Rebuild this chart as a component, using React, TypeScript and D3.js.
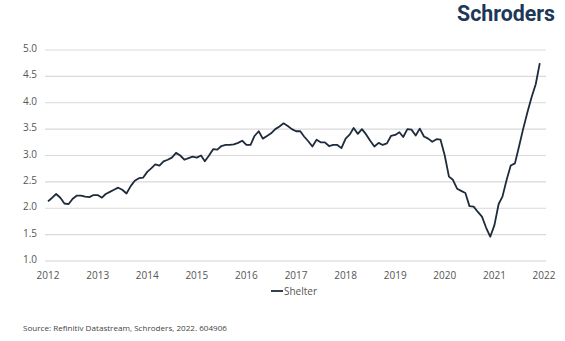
import React from "react";
import * as d3 from "d3";

const START_YEAR = 2012;
const shelter: number[] = [
  2.13, 2.2, 2.27, 2.2, 2.09, 2.08, 2.18, 2.24, 2.24, 2.22, 2.21, 2.25,
  2.25, 2.2, 2.27, 2.31, 2.35, 2.39, 2.35, 2.28, 2.42, 2.52, 2.57, 2.58,
  2.69, 2.76, 2.83, 2.81, 2.89, 2.92, 2.96, 3.05, 3.0, 2.92, 2.95, 2.98,
  2.96, 3.0, 2.89, 3.0, 3.12, 3.11, 3.18, 3.2, 3.2, 3.21, 3.24, 3.28,
  3.2, 3.2, 3.37, 3.46, 3.32, 3.37, 3.42, 3.5, 3.55, 3.61, 3.56, 3.5,
  3.46, 3.46, 3.36, 3.27, 3.17, 3.3, 3.25, 3.25, 3.18, 3.2, 3.2, 3.14,
  3.32, 3.4, 3.52, 3.41, 3.5, 3.4, 3.28, 3.17, 3.24, 3.2, 3.23, 3.37,
  3.39, 3.44, 3.35, 3.5, 3.49, 3.38, 3.51, 3.36, 3.32, 3.26, 3.31, 3.3,
  3.0, 2.6, 2.54, 2.37, 2.33, 2.29, 2.04, 2.03, 1.93, 1.84, 1.63, 1.46,
  1.68, 2.08, 2.22, 2.54, 2.81, 2.85, 3.17, 3.51, 3.82, 4.1, 4.35, 4.75,
];
const yTicks: number[] = [1.0, 1.5, 2.0, 2.5, 3.0, 3.5, 4.0, 4.5, 5.0];
const xTickYears: number[] = [2012, 2013, 2014, 2015, 2016, 2017, 2018, 2019, 2020, 2021, 2022];
const seriesName = "Shelter";
const sourceText = "Source: Refinitiv Datastream, Schroders, 2022. 604906";
const logoText = "Schroders";

const FONT = "'Open Sans', 'Noto Sans', sans-serif";

export default function App() {
  const x = d3
    .scaleTime()
    .domain([new Date(2012, 0, 1), new Date(2022, 0, 1)])
    .range([48, 544]);
  const y = d3.scaleLinear().domain([1, 5]).range([261, 50]);

  const pts = shelter.map((v, i) => ({ d: new Date(START_YEAR, i, 1), v }));
  const line = d3
    .line<{ d: Date; v: number }>()
    .x((p) => x(p.d))
    .y((p) => y(p.v));

  return (
    <svg
      width={565}
      height={341}
      style={{ position: "absolute", left: 0, top: 0, background: "#fff" }}
      fontFamily={FONT}
    >
      <rect x={0} y={0} width={565} height={341} fill="#fff" />
      {/* logo */}
      <text
        x={457}
        y={21}
        fontSize={22}
        fontWeight={700}
        fontFamily="Roboto, 'Open Sans', sans-serif"
        fill="#1d3759"
        textLength={98}
        lengthAdjust="spacingAndGlyphs"
      >
        {logoText}
      </text>
      {/* gridlines */}
      {yTicks.map((t) => (
        <line
          key={t}
          x1={45}
          x2={546}
          y1={y(t)}
          y2={y(t)}
          stroke={t === 1 ? "#d4d4d4" : "#d9d9d9"}
          strokeWidth={1.2}
        />
      ))}
      {/* y labels */}
      {yTicks.map((t) => (
        <text
          key={"l" + t}
          x={37}
          y={y(t) + 2}
          fontSize={10}
          textAnchor="end"
          fill="#555"
        >
          {d3.format(".1f")(t)}
        </text>
      ))}
      {/* x labels */}
      {xTickYears.map((yr) => (
        <text
          key={yr}
          x={x(new Date(yr, 0, 1))}
          y={278.5}
          fontSize={10}
          textAnchor="middle"
          fill="#555"
        >
          {yr}
        </text>
      ))}
      {/* series */}
      <path
        d={line(pts) || ""}
        fill="none"
        stroke="#1e2b3c"
        strokeWidth={1.8}
        strokeLinejoin="round"
      />
      {/* legend */}
      <line x1={271} x2={283} y1={291} y2={291} stroke="#1e2b3c" strokeWidth={1.8} />
      <text x={284} y={294.5} fontSize={10} fill="#555">
        {seriesName}
      </text>
      {/* source */}
      <text x={23} y={330.5} fontSize={8} fill="#444" textLength={204} lengthAdjust="spacingAndGlyphs">
        {sourceText}
      </text>
    </svg>
  );
}
